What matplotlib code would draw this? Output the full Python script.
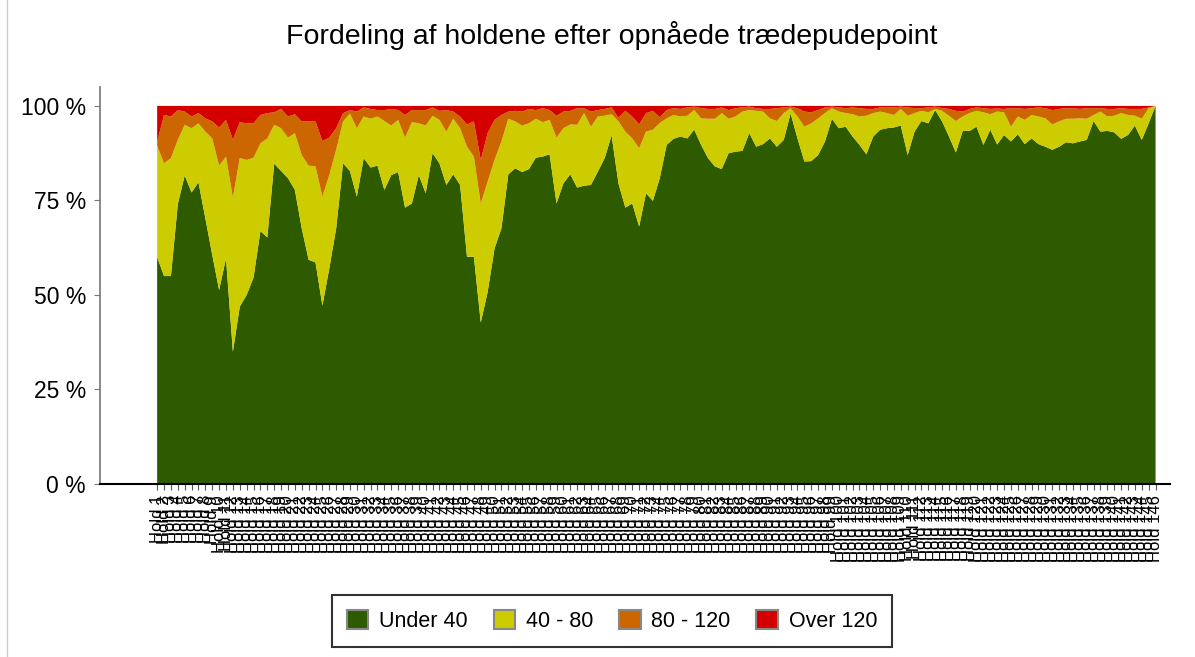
import numpy as np
import matplotlib
matplotlib.use("Agg")
import matplotlib.pyplot as plt
from matplotlib.patches import Rectangle

plt.rcParams['font.family'] = ['Liberation Sans', 'DejaVu Sans']

# andel af holdene (%) pr. besætning
under40 = [60, 55, 55, 74, 81.6, 77.1, 79.8, 70.3, 60.6, 51.3,
           59.7, 35.0, 46.9, 50.0, 54.6, 66.9, 65.2, 84.7, 82.8, 80.9,
           77.8, 67.6, 59.3, 58.6, 47.2, 57.0, 67.6, 84.8, 82.8, 76.0,
           86.2, 83.7, 84.2, 77.8, 81.7, 82.5, 73.1, 74.2, 81.7, 76.9,
           87.5, 84.8, 79.1, 81.9, 79.1, 60.1, 60.1, 42.7, 50.8, 62.3,
           67.6, 81.9, 83.5, 82.5, 83.3, 86.3, 86.6, 87.2, 74.2, 79.5,
           81.9, 78.4, 78.9, 79.1, 82.6, 86.2, 92.2, 79.5, 73.1, 74.2,
           68.1, 76.9, 74.9, 80.9, 89.7, 91.3, 91.9, 91.4, 93.7, 89.7,
           86.2, 84.0, 83.3, 87.5, 87.9, 88.1, 92.8, 89.2, 89.9, 91.4,
           89.2, 91.0, 98.0, 91.4, 85.3, 85.4, 87.0, 90.6, 96.6, 94.1,
           94.5, 91.9, 89.7, 87.2, 91.9, 93.7, 94.1, 94.3, 94.8, 87.0,
           93.2, 96.0, 95.4, 98.9, 95.9, 91.9, 87.7, 93.4, 93.4, 94.5,
           89.7, 93.7, 89.8, 92.3, 90.6, 92.5, 89.9, 91.4, 89.9, 89.2,
           88.4, 89.2, 90.4, 90.1, 90.6, 91.0, 96.0, 93.2, 93.4, 93.0,
           91.3, 92.3, 94.8, 91.0, 95.4, 100]
p40_80 = [29.5, 29.8, 31.2, 17.0, 13.4, 17.0, 15.6, 22.9, 30.8, 32.9,
          26.9, 40.7, 39.3, 35.7, 31.7, 23.2, 26.2, 10.3, 11.3, 10.7,
          15.0, 19.4, 24.9, 25.4, 28.8, 24.7, 20.8, 11.1, 15.2, 18.1,
          11.0, 12.9, 13.0, 18.2, 13.1, 13.8, 18.5, 21.5, 13.7, 17.9,
          9.9, 11.5, 14.1, 14.7, 15.0, 29.1, 26.5, 31.5, 29.2, 23.4,
          23.0, 14.7, 12.4, 12.3, 12.1, 10.3, 9.1, 9.1, 17.4, 14.6,
          13.2, 16.6, 19.2, 15.4, 14.6, 11.2, 5.6, 16.4, 20.1, 17.2,
          20.7, 16.3, 18.8, 14.6, 7.0, 6.3, 5.3, 6.0, 5.2, 7.0,
          10.4, 12.6, 14.8, 9.1, 9.3, 10.4, 6.1, 9.5, 8.6, 5.3,
          6.8, 7.1, 1.4, 5.8, 9.2, 10.0, 9.7, 7.5, 2.8, 4.4,
          3.6, 5.9, 7.5, 10.2, 6.2, 4.8, 4.0, 3.3, 4.4, 10.4,
          4.9, 2.7, 2.9, 0.3, 2.8, 5.5, 8.3, 3.8, 4.7, 4.2,
          8.6, 4.1, 8.7, 6.0, 3.9, 4.7, 6.4, 6.2, 7.3, 7.5,
          6.7, 6.7, 6.2, 6.5, 6.1, 5.6, 1.6, 5.3, 3.8, 4.4,
          6.8, 5.3, 2.6, 5.6, 4.0, 0]
p80_120 = [1.0, 12.8, 11.0, 7.9, 3.5, 3.1, 2.7, 3.5, 4.5, 10.1,
           9.7, 15.3, 9.5, 9.7, 9.1, 7.5, 6.7, 3.3, 5.1, 5.6,
           5.0, 8.9, 11.7, 11.9, 14.7, 9.9, 5.7, 2.2, 0.9, 4.4,
           2.4, 2.6, 1.7, 2.9, 4.4, 2.6, 6.0, 3.2, 3.5, 4.1,
           2.2, 2.4, 5.7, 1.9, 3.1, 5.9, 9.3, 11.5, 12.8, 10.6,
           7.0, 1.9, 2.8, 3.7, 3.8, 2.3, 3.7, 2.6, 5.8, 4.4,
           3.6, 4.4, 1.3, 4.0, 1.7, 1.8, 1.8, 1.0, 5.5, 5.8,
           6.3, 4.9, 5.0, 1.5, 2.2, 1.8, 2.0, 2.2, 0.9, 2.7,
           2.6, 2.6, 1.5, 2.3, 2.2, 1.1, 0.9, 0.7, 0.7, 2.5,
           3.4, 1.5, 0.4, 2.2, 4.0, 2.9, 2.2, 1.5, 0.4, 1.1,
           1.3, 1.8, 2.2, 1.8, 1.1, 1.1, 1.6, 2.0, 0.6, 2.2,
           1.3, 0.7, 1.3, 0.6, 0.7, 1.8, 2.7, 1.3, 1.1, 0.9,
           1.1, 1.4, 0.8, 0.9, 4.9, 2.2, 2.9, 1.8, 2.4, 2.7,
           3.8, 3.3, 2.8, 2.8, 2.5, 2.8, 1.8, 0.9, 2.0, 1.8,
           1.3, 1.6, 1.8, 2.6, 0.2, 0]
over120 = [9.5, 2.4, 2.8, 1.1, 1.5, 2.8, 1.9, 3.3, 4.1, 5.7,
           3.7, 9.0, 4.3, 4.6, 4.6, 2.4, 1.9, 1.7, 0.8, 2.8,
           2.2, 4.1, 4.1, 4.1, 9.3, 8.4, 5.9, 1.9, 1.1, 1.5,
           0.4, 0.8, 1.1, 1.1, 0.8, 1.1, 2.4, 1.1, 1.1, 1.1,
           0.4, 1.3, 1.1, 1.5, 2.8, 4.9, 4.1, 14.3, 7.2, 3.7,
           2.4, 1.5, 1.3, 1.5, 0.8, 1.1, 0.6, 1.1, 2.6, 1.5,
           1.3, 0.6, 0.6, 1.5, 1.1, 0.8, 0.4, 3.1, 1.3, 2.8,
           4.9, 1.9, 1.3, 3.0, 1.1, 0.6, 0.8, 0.4, 0.2, 0.6,
           0.8, 0.8, 0.4, 1.1, 0.6, 0.4, 0.2, 0.6, 0.8, 0.8,
           0.6, 0.4, 0.2, 0.6, 1.5, 1.7, 1.1, 0.4, 0.2, 0.4,
           0.6, 0.4, 0.6, 0.8, 0.8, 0.4, 0.3, 0.4, 0.2, 0.4,
           0.6, 0.6, 0.4, 0.2, 0.6, 0.8, 1.3, 1.5, 0.8, 0.4,
           0.6, 0.8, 0.7, 0.8, 0.6, 0.6, 0.8, 0.6, 0.4, 0.6,
           1.1, 0.8, 0.6, 0.6, 0.8, 0.6, 0.6, 0.6, 0.8, 0.8,
           0.6, 0.8, 0.8, 0.8, 0.4, 0]

besaetninger = ['Hold %d' % (i + 1) for i in range(len(under40))]
serier = ['Under 40', '40 - 80', '80 - 120', 'Over 120']
farver = ['#2E5A00', '#CCCC00', '#CC6600', '#D40000']
yticks = [0, 25, 50, 75, 100]

fig = plt.figure(figsize=(11.95, 6.57), dpi=100)
ax = fig.add_axes([100 / 1195, 173 / 657, 1070 / 1195, 397 / 657])

x = np.arange(len(under40))
polys = ax.stackplot(x, under40, p40_80, p80_120, over120,
                     colors=farver, labels=serier, linewidth=0)

n = len(under40)
ax.set_xlim(-8.3, n - 1 + 2.1)
ax.set_ylim(0, 105)
ax.set_yticks(yticks)
ax.set_yticklabels(['%d %%' % v for v in yticks], fontsize=16.5)
ax.set_xticks(x)
ax.set_xticklabels(besaetninger, rotation=90, fontsize=12)
ax.tick_params(axis='x', length=4, color='#555555', direction='out', pad=4)
ax.tick_params(axis='y', length=4, color='#777777', direction='out', pad=6)

for s in ['top', 'right']:
    ax.spines[s].set_visible(False)
ax.spines['left'].set_color('#777777')
ax.spines['left'].set_linewidth(1.2)
ax.spines['bottom'].set_color('black')
ax.spines['bottom'].set_linewidth(1.5)

fig.text(612 / 1195, 1 - 35 / 657, 'Fordeling af holdene efter opnåede trædepudepoint',
         ha='center', va='center', fontsize=20.5)

leg = fig.legend(handles=polys, labels=serier, loc='center',
                 bbox_to_anchor=(612 / 1195, 1 - 621 / 657), ncol=4,
                 fontsize=15.5, frameon=True, fancybox=False,
                 handlelength=1.0, handleheight=1.0, handletextpad=0.5,
                 columnspacing=1.2, borderpad=0.7)
leg.get_frame().set_edgecolor('black')
leg.get_frame().set_linewidth(1.5)
for p in leg.get_patches():
    p.set_edgecolor('#888888')
    p.set_linewidth(1.5)

fig.patches.append(Rectangle((7 / 1195, -0.01), 1.2, 1.02, transform=fig.transFigure,
                             fill=False, edgecolor='#cccccc', linewidth=1))

fig.savefig('out.png', dpi=100)
